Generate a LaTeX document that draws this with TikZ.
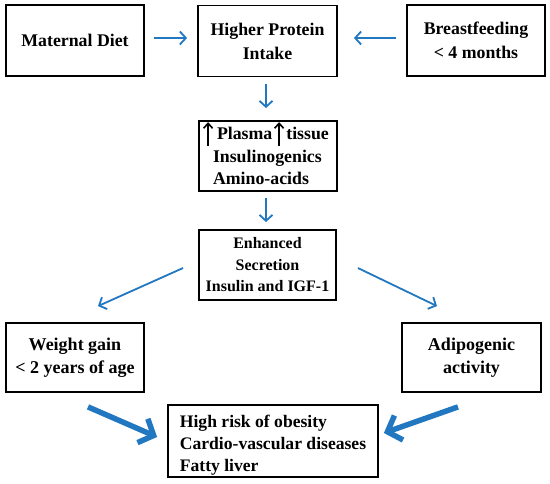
\documentclass[tikz,border=0pt]{standalone}
\usepackage{fontspec}
\setmainfont{Liberation Serif}
\definecolor{flowBlue}{RGB}{33,120,193}
\usetikzlibrary{arrows.meta,calc}

\begin{document}
\begin{tikzpicture}[x=1pt, y=-1pt,
  box/.style={draw, line width=1.8pt, minimum width=138pt, minimum height=71pt,
              inner sep=2pt, align=center, font=\fontsize{17.8}{24}\selectfont\bfseries},
  thinarrow/.style={-{Straight Barb[length=6pt,width=13pt]}, line width=1.8pt, flowBlue},
  thickarrow/.style={-{Straight Barb[length=12pt,width=26pt]}, line width=5.5pt, flowBlue},
  uparrow/.style={-{Straight Barb[length=5pt,width=9pt]}, line width=1.6pt, black}
]
  \useasboundingbox (0,0) rectangle (550,484);

  \node[box]                        (maternal) at (75,40.5)  {Maternal Diet};
  \node[box, minimum width=139pt]   (protein)  at (267.5,41) {Higher Protein\\Intake};
  \node[box]                        (breast)   at (476,40.5) {Breastfeeding\\< 4 months};

  \node[box, minimum height=70pt, text width=110pt, align=left, inner xsep=14pt,
        font=\fontsize{17.8}{22.5}\selectfont\bfseries] (plasma) at (268,156)
        {\makebox[110pt][l]{\hspace{4pt}Plasma\hspace{14pt}tissue}\\Insulinogenics\\Amino-acids};
  \node[box, minimum width=137pt, minimum height=70pt,
        font=\fontsize{16}{21.5}\selectfont\bfseries] (secretion) at (267.5,265)
        {Enhanced\\Secretion\\Insulin and IGF-1};

  \node[box, minimum height=69pt, font=\fontsize{18}{23}\selectfont\bfseries]
        (weight) at (75,357.5) {Weight gain\\< 2 years of age};
  \node[box, minimum width=139pt, minimum height=69pt, font=\fontsize{18}{23}\selectfont\bfseries]
        (adipo) at (471.5,357.5) {Adipogenic\\activity};
  \node[box, minimum width=210pt, minimum height=68pt, align=left,
        font=\fontsize{17.6}{22}\selectfont\bfseries] (risk) at (273,441)
        {\rule{0pt}{21pt}High risk of obesity\\Cardio-vascular diseases\\Fatty liver};

  % arrows inside the plasma box
  \draw[uparrow] ([shift={(10,26)}]plasma.north west) -- ([shift={(10,2)}]plasma.north west);
  \draw[uparrow] ([shift={(81,26)}]plasma.north west) -- ([shift={(81,2)}]plasma.north west);

  \draw[thinarrow] ([shift={(9,-2.5)}]maternal.east) -- ([shift={(-10,-3)}]protein.west);
  \draw[thinarrow] ([shift={(-10,-2.5)}]breast.west) -- ([shift={(16,-3)}]protein.east);
  \draw[thinarrow] ([shift={(-1.5,6.5)}]protein.south) -- ([shift={(-2,-12)}]plasma.north);
  \draw[thinarrow] ([shift={(-2,6)}]plasma.south) -- ([shift={(-1.5,-7)}]secretion.north);
  \draw[thinarrow] ([shift={(-15,3)}]secretion.west) -- ([shift={(23,-16)}]weight.north);
  \draw[thinarrow] ([shift={(21,3)}]secretion.east) -- ([shift={(-34.5,-16)}]adipo.north);

  \draw[thickarrow] ([shift={(13,14)}]weight.south) -- ([shift={(-10,-4)}]risk.west);
  \draw[thickarrow] ([shift={(-13.5,14)}]adipo.south) -- ([shift={(5,-8)}]risk.east);
\end{tikzpicture}
\end{document}
